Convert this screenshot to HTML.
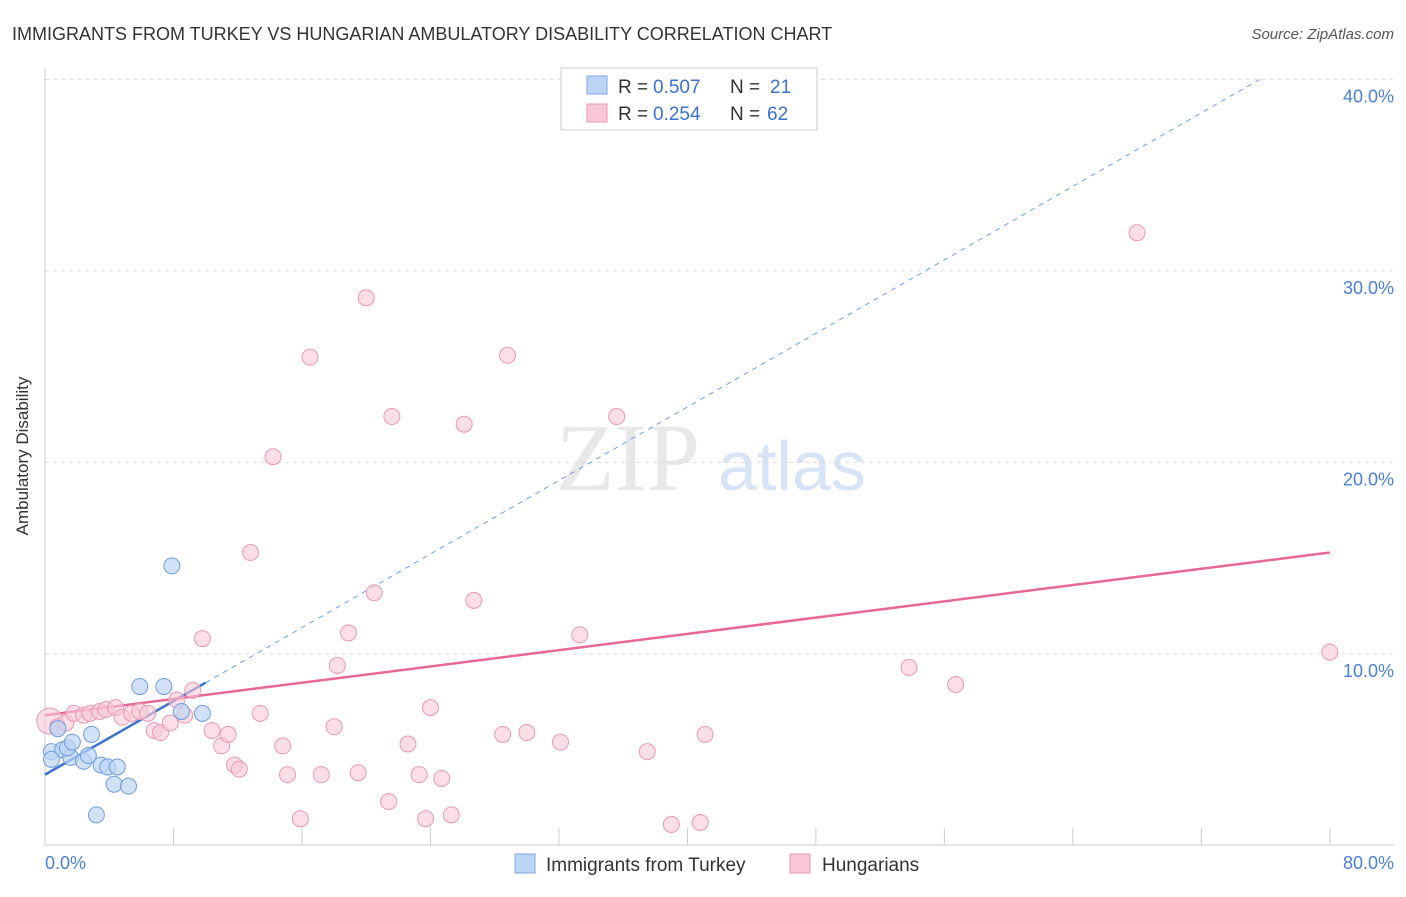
<!DOCTYPE html>
<html><head><meta charset="utf-8"><style>
body{margin:0;background:#fff;font-family:"Liberation Sans",sans-serif}
</style></head><body>
<svg width="1406" height="892" xmlns="http://www.w3.org/2000/svg" font-family="Liberation Sans, sans-serif">
<text x="12" y="40" font-size="18" fill="#333">IMMIGRANTS FROM TURKEY VS HUNGARIAN AMBULATORY DISABILITY CORRELATION CHART</text>
<text x="1394" y="39" font-size="15" fill="#555" font-style="italic" text-anchor="end">Source: ZipAtlas.com</text>
<text x="556" y="490" font-size="96" fill="#e8e8e8" font-family="Liberation Serif, serif">ZIP</text>
<text x="718" y="490" font-size="70" fill="#d6e4f5">atlas</text>
<g id="grid"></g>
<line x1="45" y1="68" x2="45" y2="845" stroke="#ccc"/>
<line x1="45" y1="845" x2="1394" y2="845" stroke="#ccc"/>
<text x="28" y="456" font-size="17" fill="#333" text-anchor="middle" transform="rotate(-90 28 456)">Ambulatory Disability</text>
<text x="45" y="869" font-size="18" fill="#4a7fd6">0.0%</text>
<text x="1394" y="869" font-size="18" fill="#4a7fd6" text-anchor="end">80.0%</text>
<g id="lines"></g>
<g id="pts"></g>
<g>
<rect x="561" y="68" width="256" height="62" fill="#fff" stroke="#ccc"/>
<rect x="587" y="76" width="20" height="18" fill="#bcd4f5" stroke="#7ea6e0"/>
<rect x="587" y="104" width="20" height="18" fill="#f9c8d6" stroke="#eb98b3"/>
<text x="618" y="93" font-size="19" fill="#333">R =</text>
<text x="653" y="93" font-size="19" fill="#3a72d0">0.507</text>
<text x="730" y="93" font-size="19" fill="#333">N =</text>
<text x="770" y="93" font-size="19" fill="#3a72d0">21</text>
<text x="618" y="120" font-size="19" fill="#333">R =</text>
<text x="653" y="120" font-size="19" fill="#3a72d0">0.254</text>
<text x="730" y="120" font-size="19" fill="#333">N =</text>
<text x="767" y="120" font-size="19" fill="#3a72d0">62</text>
</g>
<g>
<rect x="515" y="854" width="20" height="19" fill="#bcd4f5" stroke="#7ea6e0"/>
<text x="546" y="871" font-size="19" fill="#333">Immigrants from Turkey</text>
<rect x="790" y="854" width="20" height="19" fill="#f9c8d6" stroke="#eb98b3"/>
<text x="822" y="871" font-size="19" fill="#333">Hungarians</text>
</g>
</svg>
<script>
const NS="http://www.w3.org/2000/svg";
const yTicks=[10,20,30,40];
const xTicks=[0,8,16,24,32,40,48,56,64,72,80];
const turkeyX=[0.4,0.8,1.1,1.6,1.4,1.7,2.4,2.7,2.9,3.2,3.5,3.9,4.3,4.5,5.2,5.9,7.4,7.9,8.5,9.8,0.4];
const turkeyY=[4.9,6.1,5.0,4.6,5.1,5.4,4.4,4.7,5.8,1.6,4.2,4.1,3.2,4.1,3.1,8.3,8.3,14.6,7.0,6.9,4.5];
const hungX=[0.3,0.8,1.3,1.8,2.4,2.8,3.4,3.8,4.4,4.8,5.4,5.9,6.4,6.8,7.2,7.8,8.2,8.7,9.2,9.8,10.4,11.0,11.4,11.8,12.1,12.8,13.4,14.2,14.8,15.1,15.9,16.5,17.2,18.0,18.2,18.9,19.5,20.0,20.5,21.4,21.6,22.6,23.3,23.7,24.0,24.7,25.3,26.1,26.7,28.5,28.8,30.0,32.1,33.3,35.6,37.5,39.0,40.8,41.1,53.8,56.7,68.0,80.0];
const hungY=[6.5,6.2,6.4,6.9,6.8,6.9,7.0,7.1,7.2,6.7,6.9,7.0,6.9,6.0,5.9,6.4,7.6,6.8,8.1,10.8,6.0,5.2,5.8,4.2,3.99,15.3,6.9,20.3,5.2,3.7,1.4,25.5,3.7,6.2,9.4,11.1,3.8,28.6,13.2,2.3,22.4,5.3,3.7,1.4,7.2,3.5,1.6,22.0,12.8,5.8,25.6,5.9,5.4,11.0,22.4,4.9,1.1,1.2,5.8,9.3,8.4,32.0,10.1];
const trendT=[[0,3.7],[10,8.5]];
const trendH=[[0,6.8],[80,15.3]];
const sx=v=>45+v*16.06, sy=v=>845.5-v*19.15;
function mk(t,a,p){const e=document.createElementNS(NS,t);for(const k in a)e.setAttribute(k,a[k]);document.getElementById(p).appendChild(e);return e;}
yTicks.forEach(v=>{
 const l=mk('line',{x1:45,x2:1394,y1:sy(v),y2:sy(v),stroke:'#ddd','stroke-dasharray':'4,4'},'grid');
 
 
 const t=mk('text',{x:1394,y:sy(v)+23,'font-size':18,fill:'#4a7fd6','text-anchor':'end'},'grid');t.textContent=v.toFixed(1)+'%';
 
 
});
xTicks.forEach(v=>{
 const l=mk('line',{x1:sx(v),x2:sx(v),y1:828,y2:845,stroke:'#ccc'},'grid');
 
 
});
hungX.forEach((x,i)=>{
 const c=mk('circle',{cx:sx(x),cy:sy(hungY[i]),r:i==0?13:8,fill:'#f9c8d6','fill-opacity':0.6,stroke:'#eb98b3'},'pts');
 
 
});
turkeyX.forEach((x,i)=>{
 const c=mk('circle',{cx:sx(x),cy:sy(turkeyY[i]),r:8,fill:'#bcd4f5','fill-opacity':0.7,stroke:'#6f9ee0'},'pts');
 
 
});
const slope=(trendT[1][1]-trendT[0][1])/(trendT[1][0]-trendT[0][0]);
const yEnd=40;
const xe=(yEnd-trendT[0][1])/slope;
const d=mk('line',{x1:sx(trendT[1][0]),y1:sy(trendT[1][1]),x2:sx(xe),y2:sy(yEnd),stroke:'#6f9ee0','stroke-dasharray':'5,5'},'lines');


const a=mk('line',{x1:sx(trendT[0][0]),y1:sy(trendT[0][1]),x2:sx(trendT[1][0]),y2:sy(trendT[1][1]),stroke:'#3a72d0','stroke-width':2.5},'lines');


const b=mk('line',{x1:sx(trendH[0][0]),y1:sy(trendH[0][1]),x2:sx(trendH[1][0]),y2:sy(trendH[1][1]),stroke:'#e8679a','stroke-width':2.5},'lines');


</script>
</body></html>
